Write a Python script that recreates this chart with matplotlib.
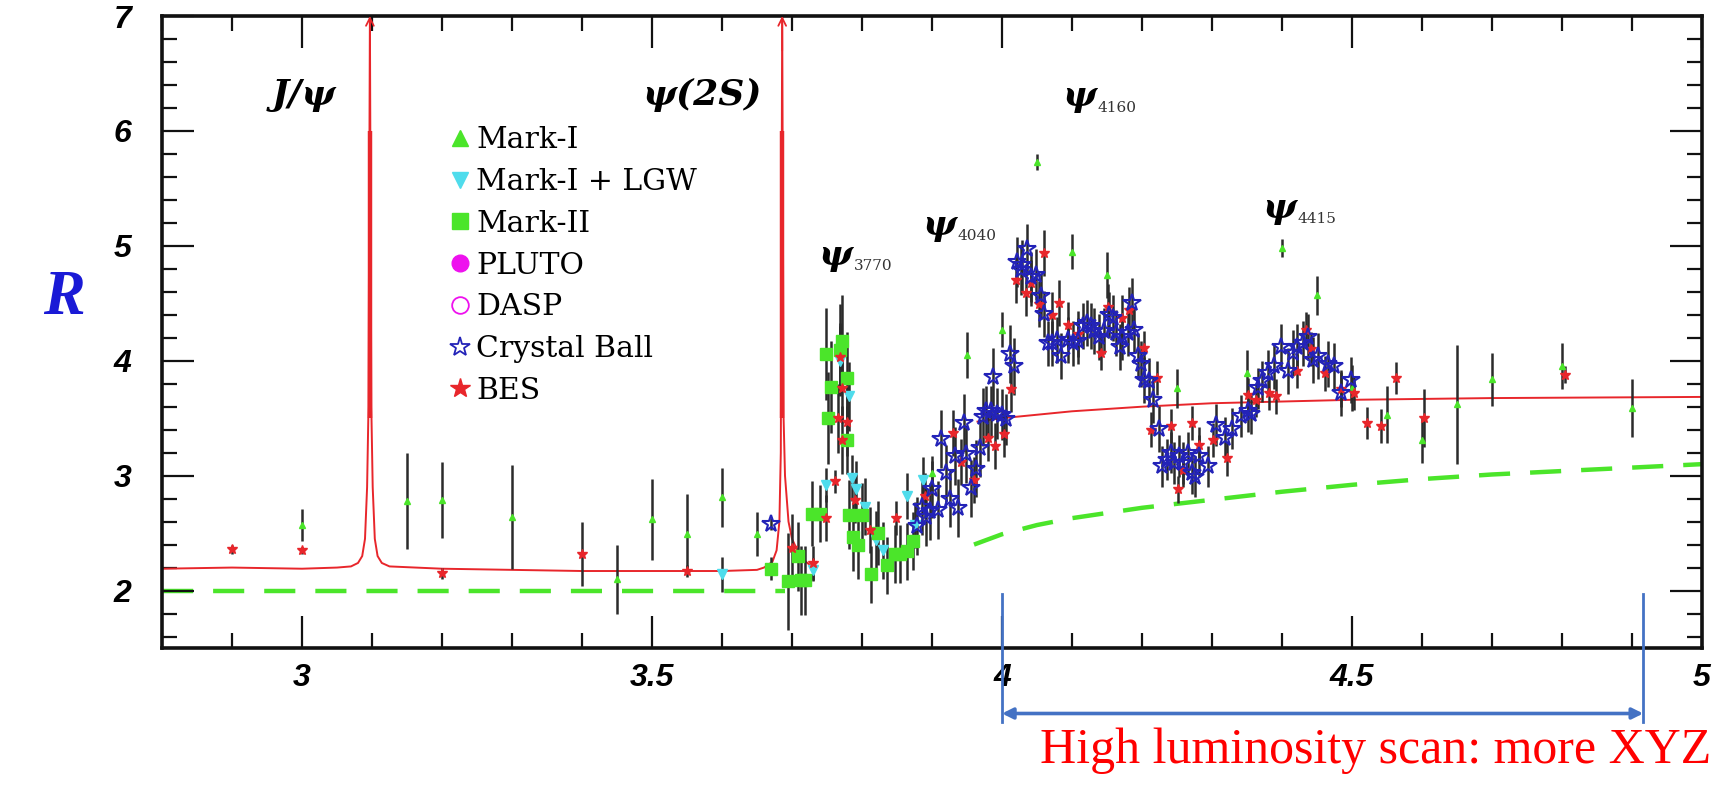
import matplotlib
matplotlib.use("Agg")
import matplotlib.pyplot as plt
from matplotlib.lines import Line2D
from matplotlib.ticker import MultipleLocator, FixedLocator

# ---- data -------------------------------------------------------------
# Mark-I
mk1_x = [3.0, 3.15, 3.2, 3.3, 3.45, 3.5, 3.55, 3.6, 3.65, 3.90, 3.95, 4.0,
         4.05, 4.1, 4.15, 4.25, 4.35, 4.40, 4.45, 4.5, 4.55, 4.6, 4.65, 4.7,
         4.8, 4.9]
mk1_y = [2.57, 2.78, 2.79, 2.64, 2.10, 2.62, 2.49, 2.81, 2.49, 3.02, 4.05, 4.27,
         5.73, 4.95, 4.75, 3.76, 3.89, 4.98, 4.57, 3.76, 3.53, 3.31, 3.62, 3.84,
         3.95, 3.59]
mk1_e = [0.14, 0.42, 0.33, 0.45, 0.30, 0.35, 0.35, 0.26, 0.19, 0.15, 0.20, 0.15,
         0.07, 0.15, 0.20, 0.17, 0.20, 0.08, 0.17, 0.20, 0.25, 0.20, 0.52, 0.23,
         0.20, 0.25]

# Mark-I + LGW
lgw_x = [3.6, 3.73, 3.749, 3.768, 3.782, 3.785, 3.792, 3.804, 3.82, 3.83,
         3.864, 3.875, 3.887]
lgw_y = [2.14, 2.18, 2.92, 4.00, 3.69, 2.98, 2.88, 2.73, 2.44, 2.35,
         2.82, 2.57, 2.96]
lgw_e = [0.15, 0.10, 0.15, 0.30, 0.30, 0.20, 0.25, 0.25, 0.25, 0.25,
         0.20, 0.20, 0.20]

# Mark-II
mk2_x = [3.67, 3.694, 3.708, 3.713, 3.718, 3.728, 3.74, 3.751, 3.749, 3.756,
         3.768, 3.772, 3.778, 3.778, 3.782, 3.787, 3.794, 3.80, 3.813, 3.823,
         3.835, 3.847, 3.854, 3.864, 3.873]
mk2_y = [2.19, 2.08, 2.30, 2.09, 2.09, 2.67, 2.67, 3.50, 4.06, 3.77,
         4.09, 4.17, 3.85, 3.31, 2.66, 2.47, 2.40, 2.66, 2.14, 2.50,
         2.22, 2.32, 2.32, 2.34, 2.43]
mk2_e = [0.10, 0.42, 0.30, 0.30, 0.30, 0.28, 0.25, 0.40, 0.40, 0.40,
         0.40, 0.40, 0.40, 0.30, 0.30, 0.30, 0.30, 0.28, 0.25, 0.28,
         0.25, 0.25, 0.25, 0.25, 0.25]

# PLUTO / DASP (no points inside the window)
pluto_x, pluto_y = [], []
dasp_x, dasp_y = [], []

# Crystal Ball
cb_x = [3.67, 3.878, 3.885, 3.892, 3.897, 3.90, 3.909, 3.913, 3.92, 3.925,
        3.933, 3.937, 3.945, 3.949, 3.956, 3.963, 3.968, 3.973, 3.977, 3.984,
        3.987, 3.993, 4.0, 4.005, 4.011, 4.017, 4.022, 4.027, 4.029, 4.036,
        4.041, 4.048, 4.055, 4.06, 4.065, 4.072, 4.079, 4.084, 4.094, 4.101,
        4.108, 4.115, 4.122, 4.127, 4.132, 4.139, 4.146, 4.153, 4.158, 4.163,
        4.168, 4.172, 4.18, 4.186, 4.189, 4.194, 4.198, 4.203, 4.21, 4.215,
        4.225, 4.229, 4.236, 4.241, 4.246, 4.253, 4.258, 4.265, 4.272, 4.275,
        4.282, 4.294, 4.306, 4.318, 4.329, 4.341, 4.351, 4.356, 4.365, 4.372,
        4.38, 4.389, 4.399, 4.408, 4.415, 4.422, 4.43, 4.437, 4.444, 4.451,
        4.465, 4.475, 4.484, 4.499]
cb_y = [2.58, 2.56, 2.73, 2.64, 2.69, 2.88, 2.70, 3.32, 3.02, 2.80,
        3.17, 2.72, 3.46, 3.19, 2.89, 3.06, 3.24, 3.51, 3.56, 3.56,
        3.86, 3.54, 3.53, 3.49, 4.06, 3.95, 4.86, 4.79, 4.83, 4.97,
        4.73, 4.75, 4.56, 4.41, 4.15, 4.15, 4.18, 4.04, 4.18, 4.15,
        4.17, 4.30, 4.33, 4.30, 4.26, 4.21, 4.26, 4.40, 4.37, 4.24,
        4.12, 4.21, 4.24, 4.50, 4.27, 4.04, 3.97, 3.83, 3.82, 3.66,
        3.41, 3.08, 3.14, 3.20, 3.11, 3.17, 3.11, 3.20, 3.02, 2.99,
        3.17, 3.08, 3.44, 3.33, 3.41, 3.52, 3.56, 3.54, 3.76, 3.82,
        3.89, 3.95, 4.12, 3.91, 4.07, 4.12, 4.15, 4.21, 4.01, 4.04,
        3.97, 3.95, 3.72, 3.83]
cb_e = [0.05, 0.25, 0.25, 0.25, 0.25, 0.25, 0.25, 0.25, 0.25, 0.25,
        0.25, 0.25, 0.25, 0.25, 0.25, 0.25, 0.25, 0.25, 0.22, 0.22,
        0.25, 0.22, 0.22, 0.22, 0.25, 0.25, 0.22, 0.22, 0.22, 0.22,
        0.22, 0.22, 0.20, 0.20, 0.20, 0.20, 0.20, 0.20, 0.20, 0.20,
        0.20, 0.20, 0.20, 0.20, 0.20, 0.20, 0.20, 0.20, 0.20, 0.20,
        0.20, 0.20, 0.20, 0.22, 0.20, 0.20, 0.20, 0.20, 0.20, 0.20,
        0.20, 0.18, 0.18, 0.18, 0.18, 0.18, 0.18, 0.18, 0.18, 0.18,
        0.18, 0.18, 0.18, 0.18, 0.18, 0.18, 0.18, 0.18, 0.18, 0.18,
        0.20, 0.20, 0.20, 0.20, 0.20, 0.20, 0.20, 0.20, 0.20, 0.20,
        0.20, 0.20, 0.20, 0.20]

# BES
bes_x = [2.90, 3.0, 3.2, 3.4, 3.55, 3.70, 3.73, 3.749, 3.761, 3.768,
         3.772, 3.765, 3.778, 3.772, 3.79, 3.811, 3.849, 3.89, 3.93, 3.942,
         3.96, 3.98, 3.99, 4.003, 4.013, 4.02, 4.034, 4.041, 4.053, 4.06,
         4.072, 4.082, 4.094, 4.108, 4.141, 4.151, 4.172, 4.182, 4.203, 4.222,
         4.213, 4.241, 4.251, 4.258, 4.272, 4.282, 4.301, 4.322, 4.351, 4.363,
         4.382, 4.391, 4.422, 4.434, 4.441, 4.461, 4.484, 4.503, 4.522, 4.541,
         4.563, 4.603, 4.804]
bes_y = [2.36, 2.35, 2.15, 2.32, 2.17, 2.37, 2.24, 2.63, 2.95, 4.03,
         3.76, 3.50, 3.47, 3.31, 2.79, 2.53, 2.63, 2.82, 3.37, 3.12,
         2.96, 3.33, 3.26, 3.36, 3.75, 4.70, 4.59, 4.68, 4.49, 4.94,
         4.40, 4.50, 4.31, 4.23, 4.07, 4.47, 4.37, 4.44, 4.11, 3.85,
         3.40, 3.43, 2.88, 3.05, 3.46, 3.27, 3.31, 3.15, 3.70, 3.66,
         3.72, 3.69, 3.91, 4.27, 4.10, 3.89, 3.75, 3.72, 3.46, 3.43,
         3.85, 3.50, 3.88]
bes_e = [0.04, 0.03, 0.05, 0.28, 0.05, 0.30, 0.15, 0.20, 0.10, 0.30,
         0.30, 0.30, 0.30, 0.30, 0.20, 0.20, 0.15, 0.20, 0.20, 0.20,
         0.20, 0.20, 0.20, 0.20, 0.20, 0.20, 0.20, 0.20, 0.20, 0.20,
         0.20, 0.20, 0.20, 0.20, 0.15, 0.20, 0.20, 0.20, 0.15, 0.15,
         0.15, 0.15, 0.12, 0.15, 0.15, 0.15, 0.15, 0.15, 0.15, 0.15,
         0.15, 0.15, 0.15, 0.15, 0.15, 0.15, 0.15, 0.15, 0.14, 0.15,
         0.14, 0.25, 0.07]

# prediction curves
red1_x = [2.8, 2.9, 3.0, 3.05, 3.07, 3.08, 3.086, 3.090, 3.093, 3.095, 3.097,
          3.099, 3.101, 3.104, 3.108, 3.114, 3.125, 3.2, 3.3, 3.4, 3.5, 3.6,
          3.65, 3.66, 3.672, 3.678, 3.682, 3.684, 3.686, 3.688, 3.690, 3.695,
          3.70, 3.71, 3.72, 3.73]
red1_y = [2.19, 2.20, 2.19, 2.20, 2.21, 2.24, 2.30, 2.45, 2.90, 3.60, 7.0,
          3.60, 2.90, 2.45, 2.30, 2.24, 2.21, 2.19, 2.18, 2.17, 2.17, 2.17,
          2.18, 2.20, 2.25, 2.35, 2.60, 3.20, 7.0, 3.50, 3.00, 2.60,
          2.45, 2.32, 2.25, 2.20]
red2_x = [3.965, 4.0, 4.1, 4.2, 4.3, 4.4, 4.5, 4.7, 5.0]
red2_y = [3.47, 3.50, 3.56, 3.60, 3.63, 3.645, 3.66, 3.675, 3.685]

green1_x = [2.8, 3.69]
green1_y = [2.0, 2.0]
green2_x = [3.96, 4.0, 4.05, 4.1, 4.2, 4.3, 4.4, 4.5, 4.6, 4.7, 4.8, 4.9, 5.0]
green2_y = [2.40, 2.49, 2.57, 2.63, 2.72, 2.79, 2.86, 2.92, 2.97, 3.01, 3.04,
            3.07, 3.10]

peak_x = [3.097, 3.686]
peak_lo = [3.5, 3.5]
peak_hi = [6.0, 6.0]

res_names = ["J/ψ", "ψ(2S)"]
res_pos = [(3.003, 6.31), (3.572, 6.31)]
psi_subs = ["3770", "4040", "4160", "4415"]
psi_pos = [(3.762, 4.92), (3.911, 5.18), (4.11, 6.30), (4.396, 5.33)]

scan_lo, scan_hi = 4.0, 4.916

# ---- colours ----------------------------------------------------------
RED = "#e8262b"
GREEN = "#4be52a"
CYAN = "#4fdcec"
BLUE = "#2323b8"
MAG = "#ee11ee"
ERR = "#2b2b2b"
ANN = "#4472c4"

fig = plt.figure(figsize=(17.16, 7.94), dpi=100)
ax = fig.add_axes([162 / 1716, 1 - 648 / 794, 1540 / 1716, 632 / 794])

# curves
ax.plot(green1_x, green1_y, color=GREEN, lw=3.2, dashes=(7, 4.5), zorder=1)
ax.plot(green2_x, green2_y, color=GREEN, lw=3.2, dashes=(7, 4.5), zorder=1)
ax.plot(red1_x, red1_y, color=RED, lw=1.4, zorder=2)
ax.plot(red2_x, red2_y, color=RED, lw=1.4, zorder=2)
ax.vlines(peak_x, peak_lo, peak_hi, color=RED, lw=3.2, zorder=2)
for px in peak_x:
    ax.annotate("", xy=(px, 7.0), xytext=(px, 6.7),
                arrowprops=dict(arrowstyle="->", color=RED, lw=1.3,
                                mutation_scale=14, shrinkA=0, shrinkB=0),
                annotation_clip=False, zorder=3)

# data points
eb = dict(ls="none", ecolor=ERR, elinewidth=1.8, capsize=0, zorder=4)
ax.errorbar(mk1_x, mk1_y, yerr=mk1_e, marker="^", ms=4.5, mfc=GREEN,
            mec=GREEN, **eb)
ax.errorbar(lgw_x, lgw_y, yerr=lgw_e, marker="v", ms=7, mfc=CYAN,
            mec=CYAN, **eb)
ax.errorbar(mk2_x, mk2_y, yerr=mk2_e, marker="s", ms=9, mfc=GREEN,
            mec=GREEN, **eb)
ax.plot(pluto_x, pluto_y, "o", color=MAG)
ax.plot(dasp_x, dasp_y, "o", mfc="none", mec=MAG)
ax.errorbar(bes_x, bes_y, yerr=bes_e, marker="*", ms=7, mfc=RED,
            mec=RED, **eb)
ax.errorbar(cb_x, cb_y, yerr=cb_e, marker="*", ms=13, mfc="none",
            mec=BLUE, mew=1.5, **eb)

# legend
handles = [
    Line2D([], [], ls="none", marker="^", ms=12, color=GREEN),
    Line2D([], [], ls="none", marker="v", ms=12, color=CYAN),
    Line2D([], [], ls="none", marker="s", ms=12, color=GREEN),
    Line2D([], [], ls="none", marker="o", ms=12, color=MAG),
    Line2D([], [], ls="none", marker="o", ms=12, mfc="none", mec=MAG, mew=1.3),
    Line2D([], [], ls="none", marker="*", ms=15, mfc="none", mec=BLUE, mew=1.3),
    Line2D([], [], ls="none", marker="*", ms=15, color=RED),
]
labels = ["Mark-I", "Mark-I + LGW", "Mark-II", "PLUTO", "DASP",
          "Crystal Ball", "BES"]
ax.legend(handles, labels, loc="upper left", bbox_to_anchor=(0.177, 0.849),
          frameon=False, handlelength=0.7, handletextpad=0.2,
          labelspacing=0.46, borderpad=0,
          prop=dict(family="DejaVu Serif", size=21.5))

# resonance labels
for name, (x, y) in zip(res_names, res_pos):
    ax.text(x, y, name, ha="center", va="center", fontsize=26,
            family="DejaVu Serif", weight="bold", style="italic")
for sub, (x, y) in zip(psi_subs, psi_pos):
    ax.text(x, y, "ψ", ha="center", va="center", fontsize=26,
            family="DejaVu Serif", weight="bold", style="italic")
    ax.annotate(sub, xy=(x, y), xytext=(13, -8), textcoords="offset points",
                ha="left", va="center", fontsize=11, family="DejaVu Serif",
                color="#333333")

# axes styling
ax.set_xlim(2.8, 5.0)
ax.set_ylim(1.5, 7.0)
ax.xaxis.set_major_locator(FixedLocator([3.0, 3.5, 4.0, 4.5, 5.0]))
ax.set_xticklabels(["3", "3.5", "4", "4.5", "5"])
ax.xaxis.set_minor_locator(MultipleLocator(0.1))
ax.yaxis.set_major_locator(MultipleLocator(1))
ax.yaxis.set_minor_locator(MultipleLocator(0.2))
ax.tick_params(which="both", direction="in", top=True, right=True,
               width=1.6, color="#111111")
ax.tick_params(which="major", length=23)
ax.tick_params(which="minor", length=11)
ax.tick_params(axis="x", which="major", pad=11)
ax.tick_params(axis="y", which="major", pad=22)
for lab in ax.get_xticklabels() + ax.get_yticklabels():
    lab.set_family("Liberation Sans")
    lab.set_fontsize(23)
    lab.set_weight("bold")
    lab.set_style("italic")
for sp in ax.spines.values():
    sp.set_linewidth(2.6)
    sp.set_color("#111111")

fig.text(0.037, 0.623, "R", color="#1a1ad6", fontsize=45,
         family="Liberation Serif", weight="bold", style="italic",
         ha="center", va="center")

# scan range marker below the axis
for xv in (scan_lo, scan_hi):
    ax.plot([xv, xv], [1.97, 0.86], color=ANN, lw=2, clip_on=False, zorder=5)
ax.annotate("", xy=(scan_hi, 0.93), xytext=(scan_lo, 0.93),
            arrowprops=dict(arrowstyle="<|-|>", color=ANN, lw=2.6,
                            mutation_scale=16, shrinkA=0, shrinkB=0),
            annotation_clip=False)
fig.text(1040 / 1716, 1 - 763 / 794, "High luminosity scan: more XYZ",
         color="red", fontsize=36, family="Liberation Serif",
         ha="left", va="baseline")

fig.savefig("out.png", dpi=100)
